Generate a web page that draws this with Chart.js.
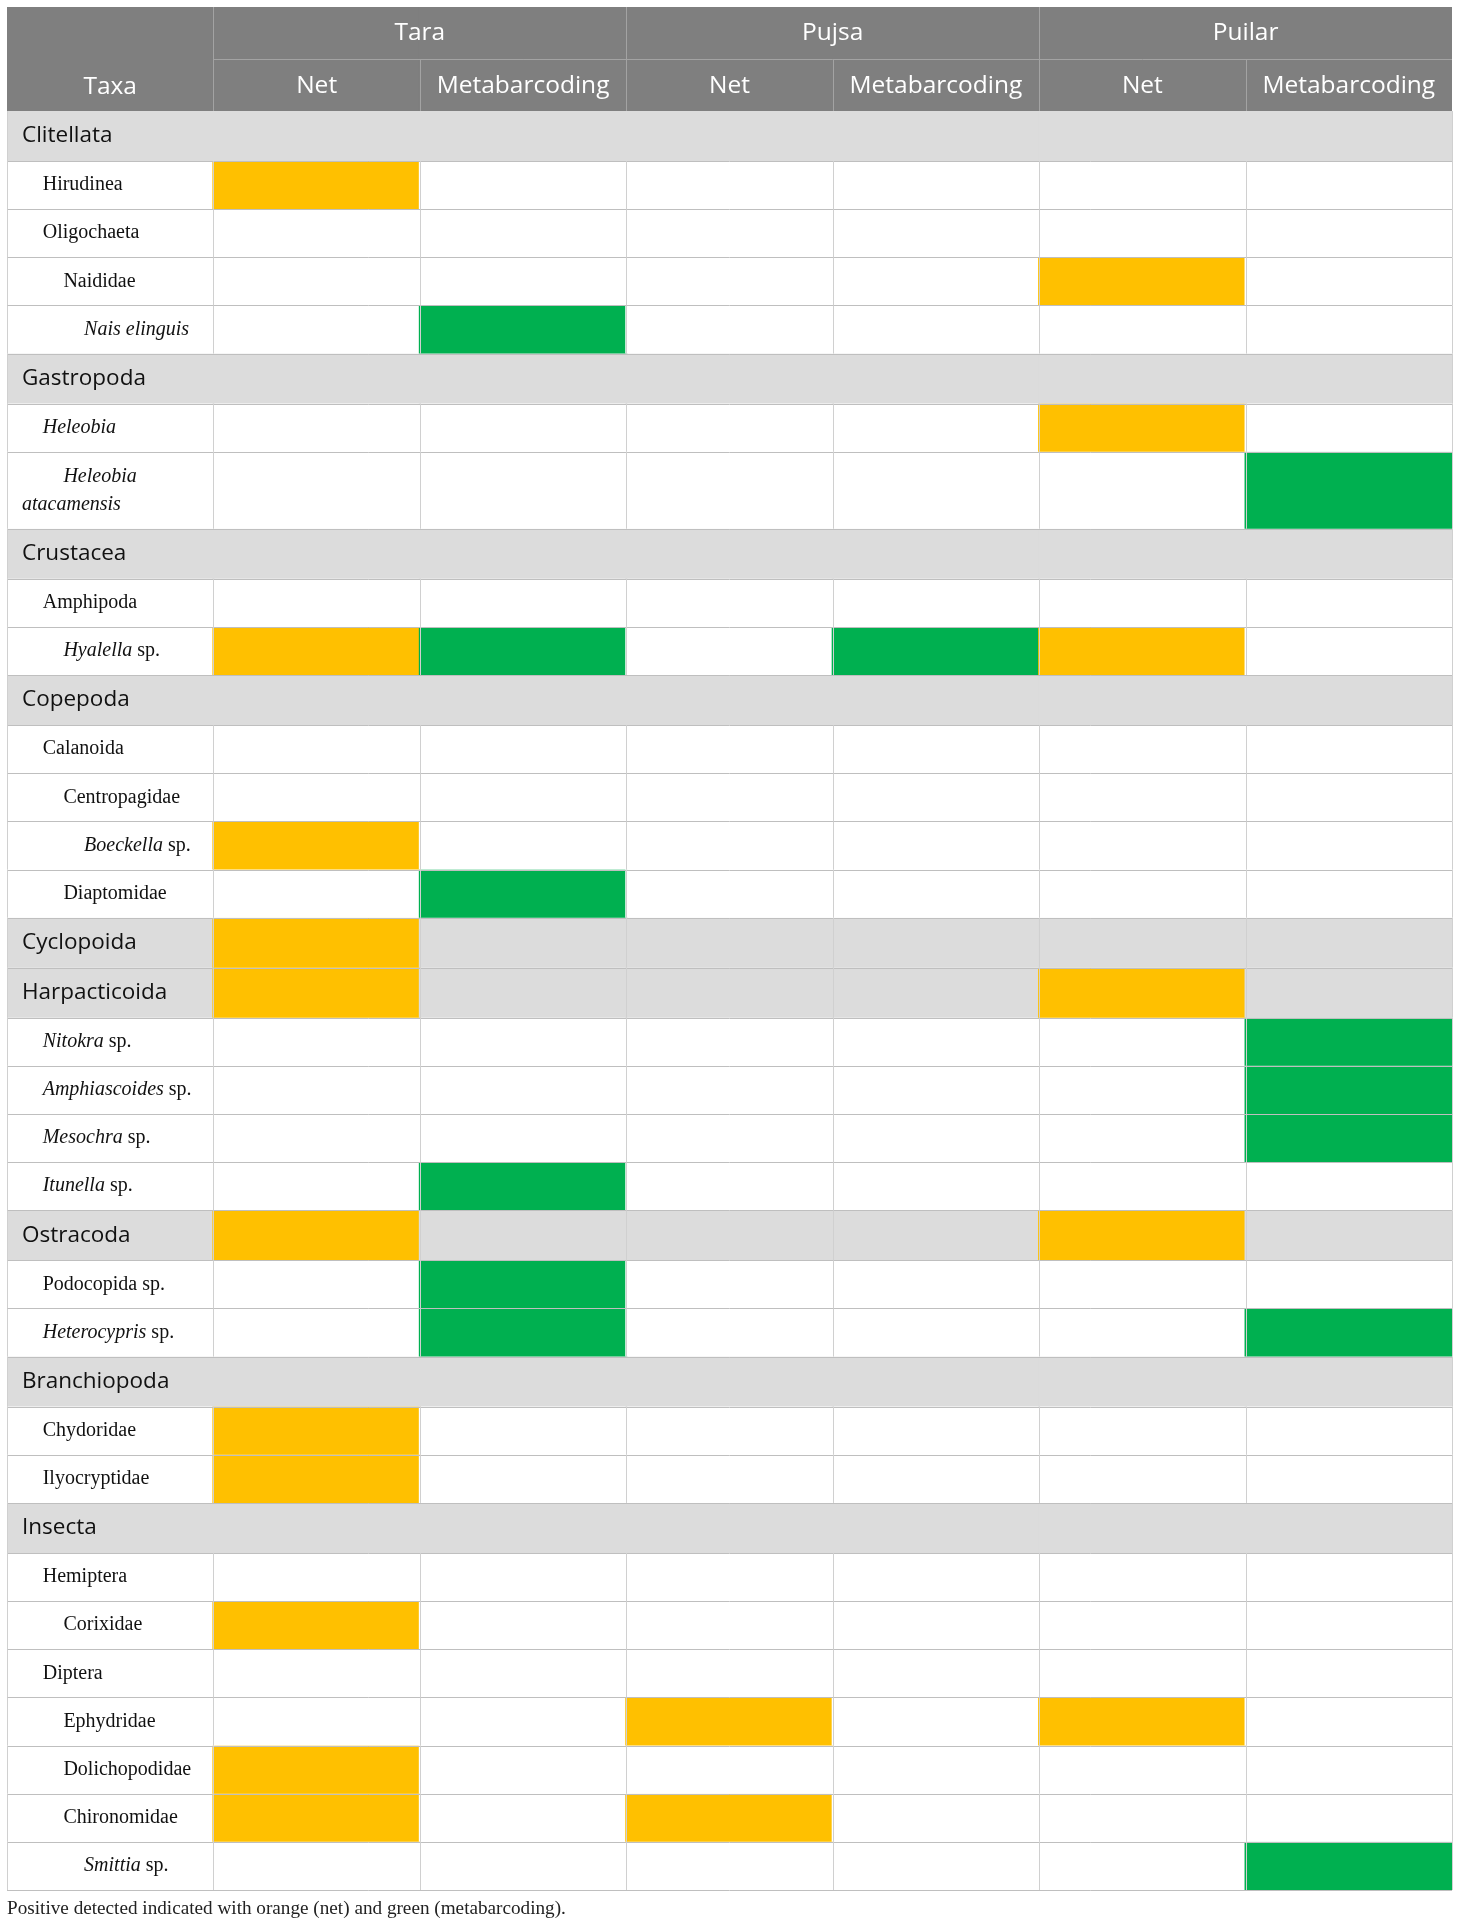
<!DOCTYPE html>
<html>
<head>
<meta charset="utf-8">
<script src="https://cdn.jsdelivr.net/npm/chart.js@4.4.0/dist/chart.umd.min.js"></script>
<style>
  html, body { margin: 0; padding: 0; background: #fff; }
  #wrap { width: 1460px; height: 1928px; }
</style>
</head>
<body>
<div id="wrap"><canvas id="table"></canvas></div>
<script>
// text between * * is set in italics, \n breaks the line
const taxa = ['Clitellata', 'Hirudinea', 'Oligochaeta', 'Naididae', '*Nais elinguis*',
  'Gastropoda', '*Heleobia*', '*Heleobia*\n*atacamensis*',
  'Crustacea', 'Amphipoda', '*Hyalella* sp.',
  'Copepoda', 'Calanoida', 'Centropagidae', '*Boeckella* sp.', 'Diaptomidae',
  'Cyclopoida', 'Harpacticoida', '*Nitokra* sp.', '*Amphiascoides* sp.', '*Mesochra* sp.', '*Itunella* sp.',
  'Ostracoda', 'Podocopida sp.', '*Heterocypris* sp.',
  'Branchiopoda', 'Chydoridae', 'Ilyocryptidae',
  'Insecta', 'Hemiptera', 'Corixidae', 'Diptera', 'Ephydridae', 'Dolichopodidae', 'Chironomidae', '*Smittia* sp.'];
// 0 = class heading, higher = deeper in the hierarchy
const rank = [0, 1, 1, 2, 3,  0, 1, 2,  0, 1, 2,  0, 1, 2, 3, 2,  0, 0, 1, 1, 1, 1,  0, 1, 1,  0, 1, 1,  0, 1, 2, 1, 2, 2, 2, 3];

const sites = ['Tara', 'Pujsa', 'Puilar'];
const methods = ['Net', 'Metabarcoding'];

// 1 = positive detection
const taraNet    = [0,1,0,0,0, 0,0,0, 0,0,1, 0,0,0,1,0, 1,1,0,0,0,0, 1,0,0, 0,1,1, 0,0,1,0,0,1,1,0];
const taraMeta   = [0,0,0,0,1, 0,0,0, 0,0,1, 0,0,0,0,1, 0,0,0,0,0,1, 0,1,1, 0,0,0, 0,0,0,0,0,0,0,0];
const pujsaNet   = [0,0,0,0,0, 0,0,0, 0,0,0, 0,0,0,0,0, 0,0,0,0,0,0, 0,0,0, 0,0,0, 0,0,0,0,1,0,1,0];
const pujsaMeta  = [0,0,0,0,0, 0,0,0, 0,0,1, 0,0,0,0,0, 0,0,0,0,0,0, 0,0,0, 0,0,0, 0,0,0,0,0,0,0,0];
const puilarNet  = [0,0,0,1,0, 0,1,0, 0,0,1, 0,0,0,0,0, 0,1,0,0,0,0, 1,0,0, 0,0,0, 0,0,0,0,1,0,0,0];
const puilarMeta = [0,0,0,0,0, 0,0,1, 0,0,0, 0,0,0,0,0, 0,0,1,1,1,0, 0,0,1, 0,0,0, 0,0,0,0,0,0,0,1];

const caption = 'Positive detected indicated with orange (net) and green (metabarcoding).';

const detections = [taraNet, taraMeta, pujsaNet, pujsaMeta, puilarNet, puilarMeta];
const columns = ['Taxa'].concat(...sites.map(s => methods.map(m => s + ' ' + m)));

const ORANGE = '#ffc000', GREEN = '#00b050', HEAD = '#7f7f7f', BAND = '#dcdcdc';

// row layout in pixel units
const headH = 104;
const merged = taxa.map((t, i) => rank[i] == 0 && detections.every(d => !d[i]));
const rowH = taxa.map((t, i) => rank[i] == 0 ? 50 : (t.includes('\n') ? 77 : 48.15));
const rowTop = [];
rowH.reduce((y, h, i) => { rowTop[i] = y; return y + h; }, headH);
const total = headH + rowH.reduce((a, b) => a + b, 0);

function cellColour(i, j) {
  if (j > 0 && detections[j - 1][i]) return (j % 2) ? ORANGE : GREEN;
  return rank[i] == 0 ? BAND : '#ffffff';
}

const datasets = [{
  data: columns.map(() => [0, headH]),
  backgroundColor: HEAD
}].concat(taxa.map((t, i) => ({
  data: columns.map(() => [rowTop[i], rowTop[i] + rowH[i]]),
  backgroundColor: columns.map((c, j) => cellColour(i, j))
})));

function drawRich(ctx, text, x, y, font) {
  text.split('*').forEach((s, k) => {
    if (!s) return;
    ctx.font = (k % 2 ? 'italic ' : '') + font;
    ctx.fillText(s, x, y);
    x += ctx.measureText(s).width;
  });
}

const tableDecor = {
  id: 'tableDecor',
  afterDatasetsDraw(chart) {
    const ctx = chart.ctx, xs = chart.scales.x, ys = chart.scales.y, area = chart.chartArea;
    const Y = v => ys.getPixelForValue(v);
    const edge = [area.left];
    for (let j = 0; j < columns.length - 1; j++)
      edge.push((xs.getPixelForValue(j) + xs.getPixelForValue(j + 1)) / 2);
    edge.push(area.right);
    const px = v => Math.round(v) + 0.5;
    const line = (x1, y1, x2, y2, col) => {
      ctx.strokeStyle = col;
      ctx.beginPath(); ctx.moveTo(x1, y1); ctx.lineTo(x2, y2); ctx.stroke();
    };
    ctx.save();
    ctx.lineWidth = 1;

    // header grid
    const hTop = Y(0), hMid = Y(headH / 2), hBot = Y(headH);
    line(edge[1], px(hMid), edge[7], px(hMid), '#a3a3a3');
    [1, 3, 5].forEach(j => line(px(edge[j]), hTop, px(edge[j]), hBot, '#a3a3a3'));
    [2, 4, 6].forEach(j => line(px(edge[j]), hMid, px(edge[j]), hBot, '#a3a3a3'));

    // body grid
    taxa.forEach((t, i) => {
      const y1 = Y(rowTop[i]), y2 = Y(rowTop[i] + rowH[i]);
      const inner = merged[i] ? [] : [1, 2, 3, 4, 5, 6];
      [0, 7].concat(inner).forEach(j => line(px(edge[j]), y1, px(edge[j]), y2, '#d0d0d0'));
      line(edge[0], px(y2), edge[7], px(y2), '#bfbfbf');
    });

    // header text
    ctx.fillStyle = '#ffffff';
    ctx.textAlign = 'center';
    ctx.textBaseline = 'middle';
    ctx.font = '24.5px "Open Sans"';
    sites.forEach((s, k) => ctx.fillText(s, (edge[1 + 2 * k] + edge[3 + 2 * k]) / 2, Y(26)));
    for (let j = 1; j < columns.length; j++)
      ctx.fillText(methods[(j - 1) % 2], (edge[j] + edge[j + 1]) / 2, Y(79));
    ctx.fillText(columns[0], (edge[0] + edge[1]) / 2, Y(80));

    // row labels
    ctx.textAlign = 'left';
    ctx.fillStyle = '#111111';
    taxa.forEach((t, i) => {
      const mid = Y(rowTop[i] + rowH[i] / 2);
      if (rank[i] == 0) {
        ctx.font = '22.5px "Open Sans"';
        ctx.fillText(t, area.left + 15, mid);
        return;
      }
      const lines = t.split('\n');
      lines.forEach((ln, k) => {
        const x = k == 0 ? area.left + 15 + 20.7 * rank[i] : area.left + 15;
        const y = mid + (k - (lines.length - 1) / 2) * 28;
        drawRich(ctx, ln, x, y, '20px "Liberation Serif"');
      });
    });

    // footnote
    ctx.fillStyle = '#222222';
    ctx.font = '19.2px "Liberation Serif"';
    ctx.fillText(caption, area.left, area.bottom + 19);
    ctx.restore();
  }
};

new Chart(document.getElementById('table'), {
  type: 'bar',
  data: { labels: columns, datasets: datasets },
  options: {
    responsive: true,
    maintainAspectRatio: false,
    animation: false,
    layout: { padding: { top: 7, left: 7, right: 8, bottom: 38 } },
    datasets: { bar: { barPercentage: 1.01, categoryPercentage: 1, grouped: false, borderWidth: 0 } },
    plugins: { legend: { display: false }, tooltip: { enabled: false } },
    scales: {
      x: { type: 'category', display: false },
      y: { type: 'linear', min: 0, max: total, reverse: true, display: false }
    }
  },
  plugins: [tableDecor]
});
</script>
</body>
</html>
